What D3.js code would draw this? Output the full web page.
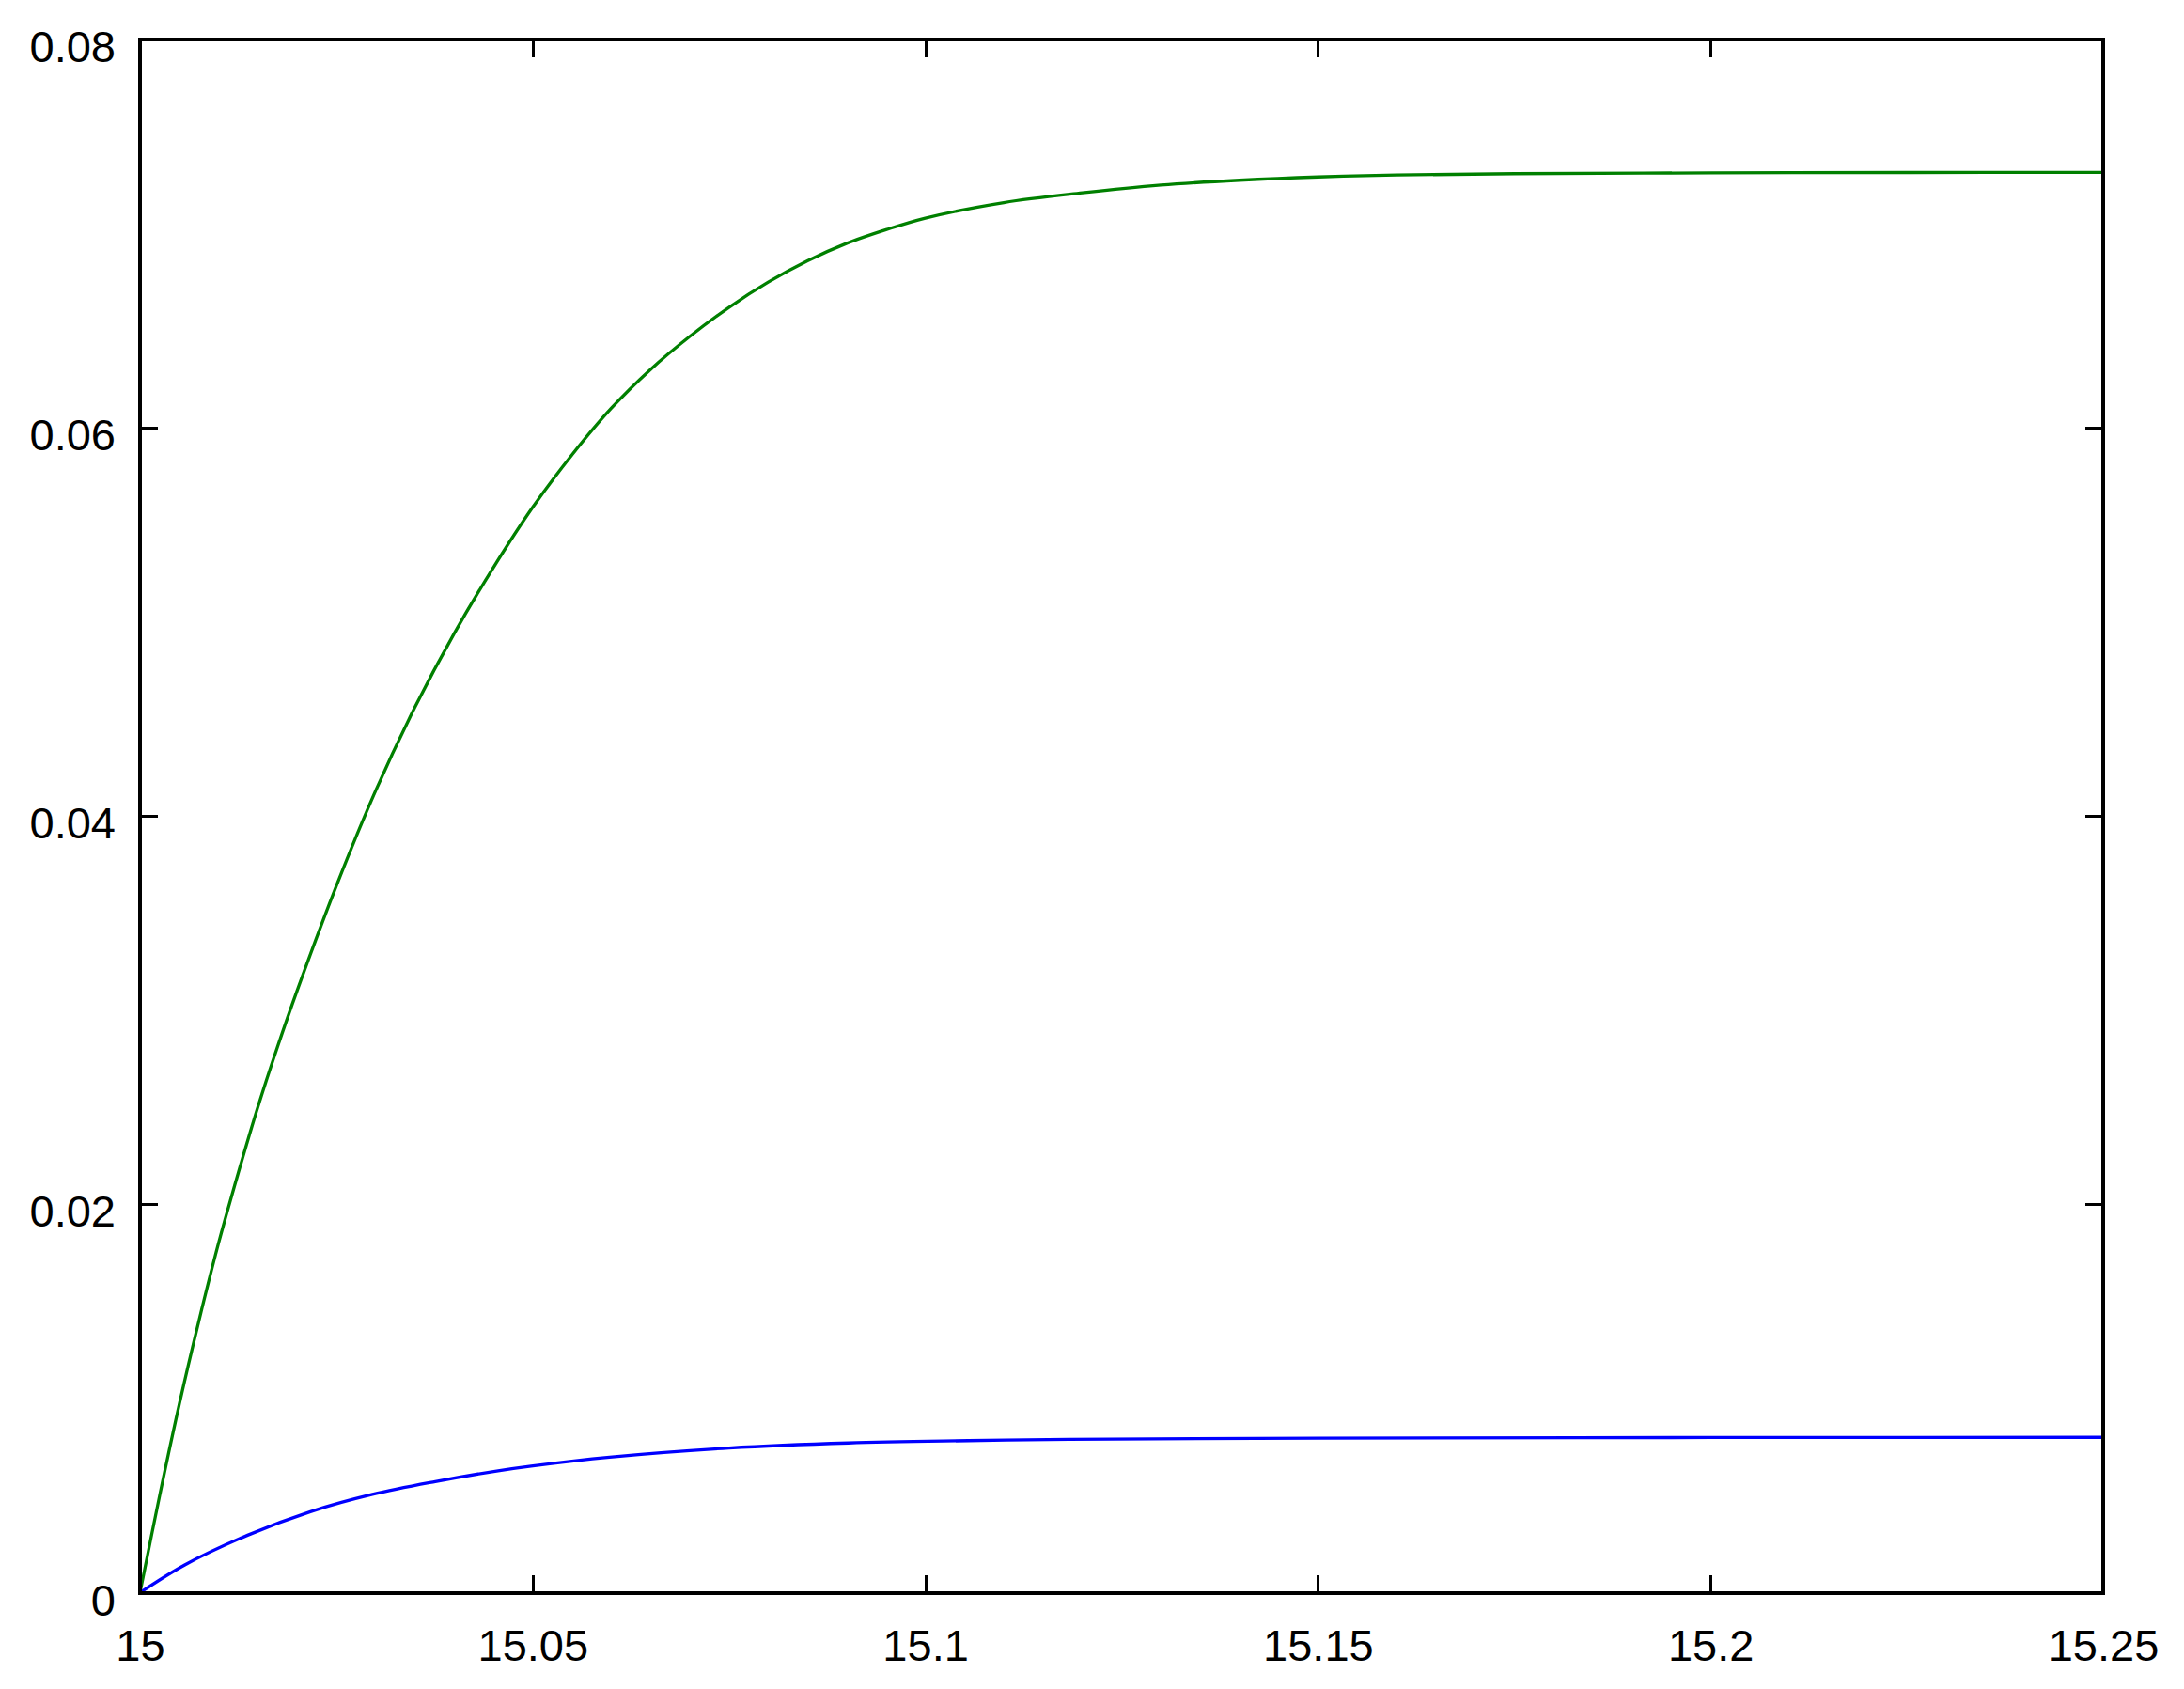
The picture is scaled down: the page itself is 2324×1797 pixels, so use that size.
<!DOCTYPE html>
<html>
  <head>
    <meta charset="utf-8">
    <style type="text/css">
      body {
        margin: 0;
        background: #fff;
      }
      .axis text {
        font-family: "Liberation Sans", Arial, sans-serif;
        font-size: 47px;
        fill: #000;
      }
      .axis path {
        display: none;
      }
      .axis line {
        stroke: #000;
        stroke-width: 3px;
        shape-rendering: crispEdges;
      }
      .frame {
        fill: none;
        stroke: #000;
        stroke-width: 4px;
        shape-rendering: crispEdges;
      }
      .curve {
        fill: none;
        stroke-width: 3.3px;
      }
    </style>
  </head>
  <body>
    <script src="https://d3js.org/d3.v7.min.js"></script>
    <script>
    // values
    var greenX = [15, 15.0025, 15.005, 15.0075, 15.01, 15.0125, 15.015, 15.0175, 15.02,
                  15.025, 15.03, 15.035, 15.04, 15.045, 15.05, 15.055, 15.06, 15.065,
                  15.07, 15.075, 15.08, 15.085, 15.09, 15.095, 15.1, 15.11, 15.12, 15.13,
                  15.14, 15.15, 15.16, 15.175, 15.2, 15.225, 15.25];
    var greenVals = [0, 0.0050, 0.0097, 0.0140, 0.0180, 0.0216, 0.0250, 0.0281, 0.0310,
                     0.0364, 0.0413, 0.0456, 0.0494, 0.0528, 0.0559, 0.0586, 0.0610, 0.0630,
                     0.0647, 0.0662, 0.0675, 0.0686, 0.0695, 0.0702, 0.0708, 0.0716, 0.0721, 0.0725,
                     0.07275, 0.07292, 0.07302, 0.07309, 0.07313, 0.07315, 0.07316];

    var blueX = [15, 15.0057, 15.0137, 15.0217, 15.0296, 15.0376, 15.0456, 15.0498,
                 15.0598, 15.075, 15.0902, 15.1055, 15.1183, 15.15, 15.2, 15.25];
    var blueVals = [0, 0.00143, 0.00296, 0.00417, 0.00506, 0.00572, 0.00628, 0.00652,
                    0.00698, 0.00745, 0.00771, 0.00783, 0.00790, 0.00796, 0.00799, 0.00800];

    var xTicks = [15, 15.05, 15.1, 15.15, 15.2, 15.25];
    var xTickLabels = ["15", "15.05", "15.1", "15.15", "15.2", "15.25"];
    var yTicks = [0, 0.02, 0.04, 0.06, 0.08];
    var yTickLabels = ["0", "0.02", "0.04", "0.06", "0.08"];

    var W = 2324, H = 1797;
    var margin = {top: 42, right: 86, bottom: 102.5, left: 149};
    var width = W - margin.left - margin.right,
        height = H - margin.top - margin.bottom;

    var x = d3.scaleLinear()
        .domain([15, 15.25])
        .range([0, width]);

    var y = d3.scaleLinear()
        .domain([0, 0.08])
        .range([height, 0]);

    var svg = d3.select("body").append("svg")
        .attr("width", W)
        .attr("height", H)
      .append("g")
        .attr("transform", "translate(" + margin.left + "," + margin.top + ")");

    var xAxis = d3.axisBottom(x)
        .tickValues(xTicks)
        .tickFormat(function(d, i) { return xTickLabels[i]; })
        .tickSizeInner(-19)
        .tickSizeOuter(0)
        .tickPadding(39);

    var yAxis = d3.axisLeft(y)
        .tickValues(yTicks)
        .tickFormat(function(d, i) { return yTickLabels[i]; })
        .tickSizeInner(-19)
        .tickSizeOuter(0)
        .tickPadding(26);

    svg.append("g")
        .attr("class", "x axis")
        .attr("transform", "translate(0," + height + ")")
        .call(xAxis);

    svg.append("g")
        .attr("class", "y axis")
        .call(yAxis)
      .selectAll("text")
        .attr("dy", "0.5em");

    // mirrored ticks on top and right, no labels
    svg.append("g")
        .attr("class", "x axis")
        .call(d3.axisTop(x).tickValues(xTicks).tickFormat("").tickSizeInner(-19).tickSizeOuter(0));

    svg.append("g")
        .attr("class", "y axis")
        .attr("transform", "translate(" + width + ",0)")
        .call(d3.axisRight(y).tickValues(yTicks).tickFormat("").tickSizeInner(-19).tickSizeOuter(0));

    var line = d3.line()
        .x(function(d) { return x(d[0]); })
        .y(function(d) { return y(d[1]); })
        .curve(d3.curveCatmullRom.alpha(0.5));

    svg.append("path")
        .datum(d3.zip(greenX, greenVals))
        .attr("class", "curve")
        .attr("stroke", "#008000")
        .attr("d", line);

    svg.append("path")
        .datum(d3.zip(blueX, blueVals))
        .attr("class", "curve")
        .attr("stroke", "#0000ff")
        .attr("d", line);

    svg.append("rect")
        .attr("class", "frame")
        .attr("width", width)
        .attr("height", height);
    </script>
  </body>
</html>
